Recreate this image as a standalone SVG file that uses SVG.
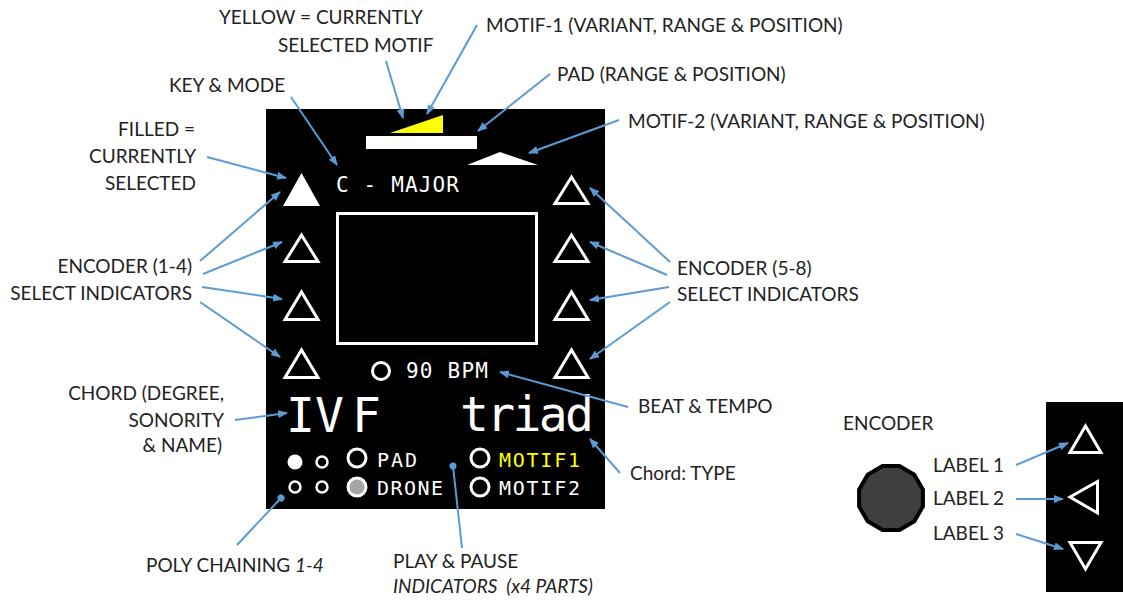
<svg xmlns="http://www.w3.org/2000/svg" width="1123" height="600" viewBox="0 0 1123 600">
<style>
.lbl{font-family:Lato,"Liberation Sans",sans-serif;font-size:19px;fill:#222}
.it{font-style:italic}
.mono{font-family:"DejaVu Sans Mono","Liberation Mono",monospace;fill:#fff}
.ind{fill:none;stroke:#fff;stroke-width:3}
.con{fill:none;stroke:#5b9bd5;stroke-width:2}
.arr{marker-end:url(#ah)}
</style>
<defs>
<marker id="ah" markerUnits="userSpaceOnUse" markerWidth="10" markerHeight="8" refX="9" refY="4" orient="auto"><path d="M0,0 L10,4 L0,8 z" fill="#5b9bd5"/></marker>
<marker id="dot" markerUnits="userSpaceOnUse" markerWidth="8" markerHeight="8" refX="4" refY="4" orient="auto"><circle cx="4" cy="4" r="3.5" fill="#5b9bd5"/></marker>
</defs>
<rect width="1123" height="600" fill="#fff"/>

<g id="display">
<rect x="266" y="109" width="339" height="400" fill="#000"/>
</g>
<g id="motif1-bar"><polygon points="390,133 443,133 443,115" fill="#ffff00"/></g>
<g id="pad-bar"><rect x="366" y="136" width="111" height="13" fill="#fff"/></g>
<g id="motif2-bar"><polygon points="467,165 538,165 500,152" fill="#fff"/></g>
<g id="key-mode"><text class="mono" x="336" y="192" font-size="21" textLength="123">C - MAJOR</text></g>
<g id="enc-left">
<polygon points="283,206 320,206 301.5,173" fill="#fff"/>
<polygon class="ind" points="285,261.5 318,261.5 301.5,235"/>
<polygon class="ind" points="285,319.5 318,319.5 301.5,292"/>
<polygon class="ind" points="285,377.5 318,377.5 301.5,350"/>
</g>
<g id="enc-right">
<polygon class="ind" points="555,203.5 588,203.5 571.5,177"/>
<polygon class="ind" points="555,261.5 588,261.5 571.5,235"/>
<polygon class="ind" points="555,319.5 588,319.5 571.5,292"/>
<polygon class="ind" points="555,377.5 588,377.5 571.5,350"/>
</g>
<g id="screen"><rect class="ind" x="337.5" y="213.5" width="199" height="130"/></g>
<g id="tempo">
<circle class="ind" cx="381" cy="371" r="8.5"/>
<text class="mono" x="406" y="378" font-size="21" textLength="82">90 BPM</text>
</g>
<g id="chord">
<text class="mono" x="286" y="432" font-size="48">IV<tspan x="352">F</tspan></text>
</g>
<g id="chord-type"><text class="mono" x="460" y="431" font-size="48" textLength="134">triad</text></g>
<g id="poly">
<circle cx="295" cy="462" r="7.5" fill="#fff"/>
<circle cx="322" cy="462" r="5.5" fill="none" stroke="#fff" stroke-width="2.5"/>
<circle cx="295" cy="487" r="5.5" fill="none" stroke="#fff" stroke-width="2.5"/>
<circle cx="322" cy="487" r="5.5" fill="none" stroke="#fff" stroke-width="2.5"/>
</g>
<g id="parts">
<circle class="ind" cx="357" cy="458" r="9"/>
<text class="mono" x="377" y="467" font-size="20" textLength="40">PAD</text>
<circle cx="357" cy="487" r="9" fill="#a6a6a6" stroke="#fff" stroke-width="3"/>
<text class="mono" x="377" y="495" font-size="20" textLength="66">DRONE</text>
<circle class="ind" cx="480" cy="458" r="9"/>
<text class="mono" x="499" y="467" font-size="20" textLength="81" style="fill:#ffff00">MOTIF1</text>
<circle class="ind" cx="480" cy="487" r="9"/>
<text class="mono" x="499" y="495" font-size="20" textLength="81">MOTIF2</text>
</g>

<g id="encoder-panel">
<rect x="1046" y="402" width="77" height="190" fill="#000"/>
<polygon class="ind" points="1070,452.5 1101,452.5 1085.5,426"/>
<polygon class="ind" points="1070,497 1097.5,481.5 1097.5,513"/>
<polygon class="ind" points="1070,542.5 1101,542.5 1085.5,569"/>
</g>
<g id="encoder-knob">
<polygon points="922.9,489.5 922.9,506.5 914.3,521.3 899.5,529.9 882.5,529.9 867.7,521.3 859.1,506.5 859.1,489.5 867.7,474.7 882.5,466.1 899.5,466.1 914.3,474.7" fill="#3f3f3f" stroke="#000" stroke-width="4"/>
</g>

<g id="labels">
<text class="lbl" x="219" y="24">YELLOW = CURRENTLY</text>
<text class="lbl" x="278" y="52">SELECTED MOTIF</text>
<text class="lbl" x="486" y="32">MOTIF-1 (VARIANT, RANGE &amp; POSITION)</text>
<text class="lbl" x="557" y="81">PAD (RANGE &amp; POSITION)</text>
<text class="lbl" x="628" y="128">MOTIF-2 (VARIANT, RANGE &amp; POSITION)</text>
<text class="lbl" x="169" y="92">KEY &amp; MODE</text>
<text class="lbl" x="195" y="136" text-anchor="end">FILLED =</text>
<text class="lbl" x="196" y="163" text-anchor="end">CURRENTLY</text>
<text class="lbl" x="196" y="190" text-anchor="end">SELECTED</text>
<text class="lbl" x="192" y="273" text-anchor="end">ENCODER (1-4)</text>
<text class="lbl" x="192" y="300" text-anchor="end">SELECT INDICATORS</text>
<text class="lbl" x="224" y="400" text-anchor="end">CHORD (DEGREE,</text>
<text class="lbl" x="224" y="427" text-anchor="end">SONORITY</text>
<text class="lbl" x="222" y="452" text-anchor="end">&amp; NAME)</text>
<text class="lbl" x="677" y="275">ENCODER (5-8)</text>
<text class="lbl" x="677" y="301">SELECT INDICATORS</text>
<text class="lbl" x="638" y="413">BEAT &amp; TEMPO</text>
<text class="lbl" x="630" y="480">Chord: TYPE</text>
<text class="lbl" x="146" y="572">POLY CHAINING <tspan class="it">1-4</tspan></text>
<text class="lbl" x="393" y="568">PLAY &amp; PAUSE</text>
<text class="lbl it" x="393" y="593" xml:space="preserve">INDICATORS  (x4 PARTS)</text>
<text class="lbl" x="843" y="430">ENCODER</text>
<text class="lbl" x="933" y="472">LABEL 1</text>
<text class="lbl" x="933" y="505">LABEL 2</text>
<text class="lbl" x="933" y="540">LABEL 3</text>
</g>

<g id="connectors">
<line class="con arr" x1="386" y1="61" x2="403" y2="118"/>
<line class="con arr" x1="477" y1="25" x2="427" y2="114"/>
<line class="con arr" x1="550" y1="74" x2="478" y2="131"/>
<line class="con arr" x1="619" y1="120" x2="529" y2="153"/>
<line class="con arr" x1="291" y1="97" x2="337" y2="165"/>
<line class="con arr" x1="207" y1="157" x2="286" y2="178"/>
<line class="con arr" x1="200" y1="261" x2="280" y2="192"/>
<line class="con arr" x1="203" y1="274" x2="282" y2="242"/>
<line class="con arr" x1="202" y1="287" x2="282" y2="299"/>
<line class="con arr" x1="200" y1="302" x2="280" y2="357"/>
<line class="con arr" x1="235" y1="420" x2="287" y2="413"/>
<line class="con arr" x1="670" y1="262" x2="590" y2="188"/>
<line class="con arr" x1="667" y1="275" x2="590" y2="242"/>
<line class="con arr" x1="669" y1="287" x2="590" y2="300"/>
<line class="con arr" x1="670" y1="302" x2="590" y2="359"/>
<line class="con arr" x1="628" y1="407" x2="500" y2="372"/>
<line class="con arr" x1="620" y1="473" x2="590" y2="439"/>
<line class="con" x1="237" y1="545" x2="281" y2="498" marker-end="url(#dot)"/>
<line class="con" x1="462" y1="548" x2="453" y2="466" marker-end="url(#dot)"/>
<line class="con arr" x1="1016" y1="465" x2="1068" y2="443"/>
<line class="con arr" x1="1016" y1="499" x2="1063" y2="499"/>
<line class="con arr" x1="1016" y1="534" x2="1063" y2="549"/>
</g>
</svg>
